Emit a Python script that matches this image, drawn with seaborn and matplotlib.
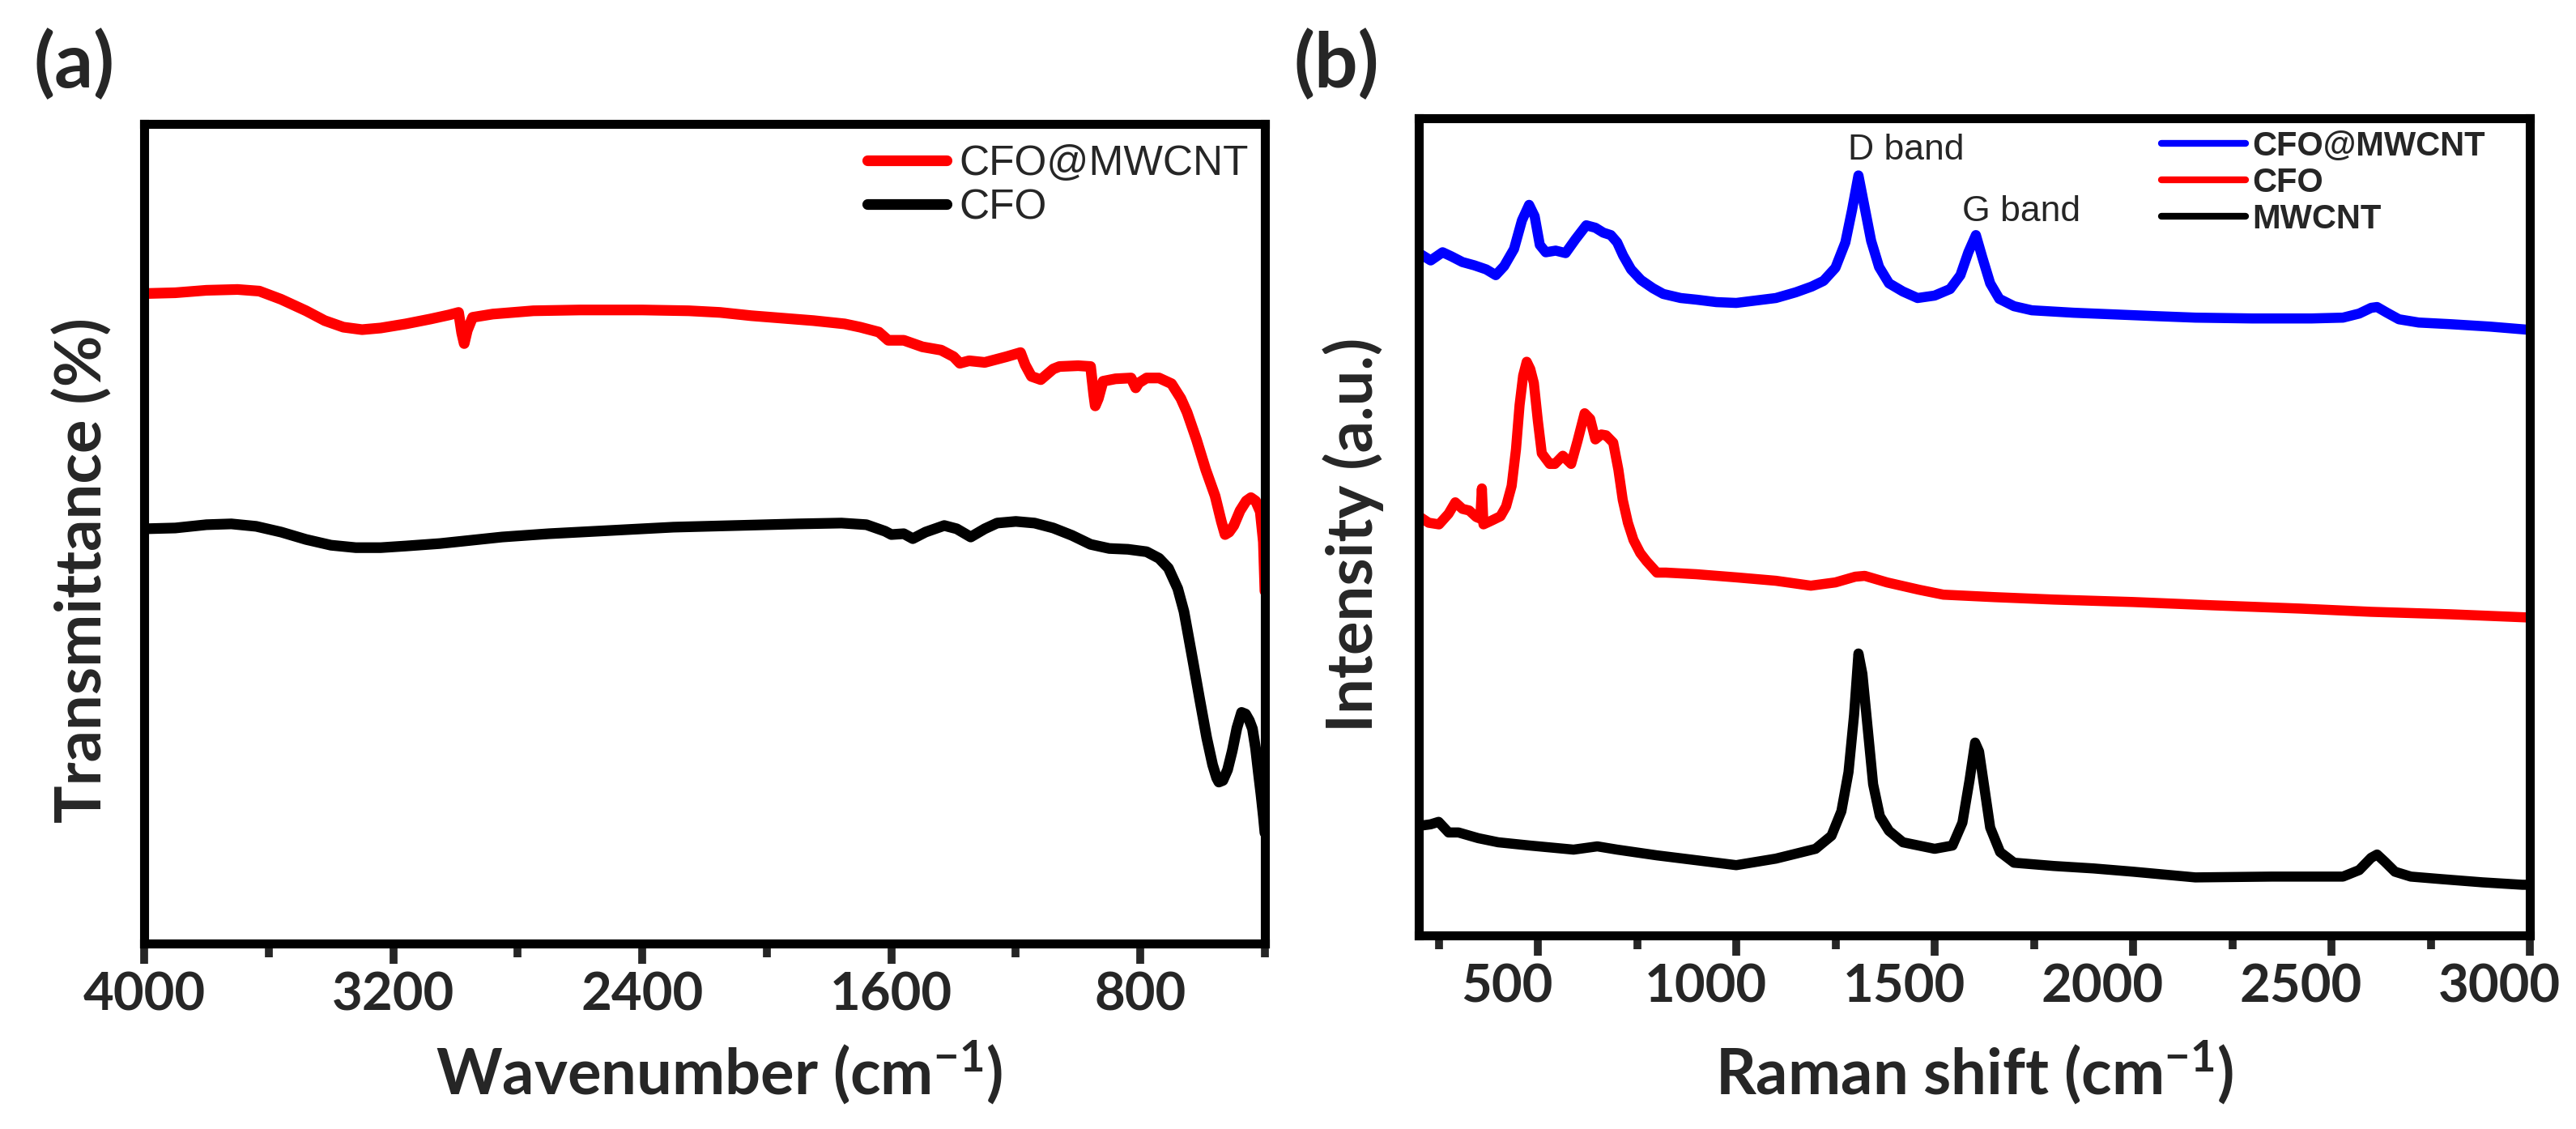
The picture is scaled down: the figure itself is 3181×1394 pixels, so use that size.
import matplotlib
matplotlib.use('Agg')
import matplotlib.pyplot as plt
import matplotlib.transforms as mtransforms
import seaborn as sns
import pandas as pd

# ---- FTIR (a) ----
ftir_wn_cfo_mwcnt = [4000, 3900, 3800, 3700, 3630, 3560, 3480, 3420, 3360, 3300, 3240, 3160, 3080,
                     3020, 2990, 2980, 2972, 2962, 2945, 2880, 2750, 2600, 2400, 2250, 2150, 2050,
                     1950, 1850, 1750, 1700, 1640, 1610, 1560, 1500, 1440, 1400, 1380, 1350, 1300,
                     1230, 1185, 1170, 1150, 1120, 1080, 1060, 1000, 960, 950, 945, 935, 920, 880,
                     830, 815, 805, 780, 740, 700, 670, 650, 620, 590, 560, 540, 528, 515, 500, 480,
                     460, 445, 430, 415, 405, 400]
ftir_cfo_mwcnt = [79.3, 79.4, 79.7, 79.8, 79.6, 78.6, 77.2, 76.0, 75.2, 74.9, 75.1, 75.6, 76.2,
                  76.7, 77.0, 74.5, 73.2, 74.8, 76.4, 76.8, 77.2, 77.3, 77.3, 77.2, 77.0, 76.6,
                  76.3, 76.0, 75.6, 75.2, 74.6, 73.6, 73.6, 72.8, 72.4, 71.6, 70.8, 71.1, 70.9,
                  71.6, 72.1, 70.6, 69.2, 68.8, 70.1, 70.4, 70.5, 70.4, 67.0, 65.6, 66.5, 68.6, 68.9,
                  69.0, 67.8, 68.4, 69.0, 69.0, 68.3, 66.5, 64.8, 61.5, 57.8, 54.6, 51.5, 49.9, 50.2,
                  51.0, 52.8, 54.0, 54.4, 54.0, 52.7, 49.0, 43.0]

ftir_wn_cfo = [4000, 3900, 3800, 3720, 3640, 3560, 3480, 3400, 3320, 3240, 3160, 3050, 2950, 2850,
               2700, 2500, 2300, 2100, 1900, 1760, 1680, 1620, 1600, 1560, 1531, 1490, 1430, 1390,
               1345, 1300, 1260, 1200, 1140, 1080, 1020, 960, 900, 840, 780, 740, 710, 680, 660,
               630, 610, 587, 568, 555, 548, 535, 520, 505, 490, 475, 462, 450, 440, 430, 420,
               413, 405, 400]
ftir_cfo = [50.6, 50.7, 51.1, 51.2, 50.9, 50.2, 49.3, 48.6, 48.3, 48.3, 48.5, 48.8, 49.2, 49.6,
            50.0, 50.4, 50.8, 51.0, 51.2, 51.3, 51.1, 50.3, 49.9, 50.0, 49.4, 50.2, 51.0, 50.6,
            49.6, 50.6, 51.3, 51.5, 51.3, 50.7, 49.8, 48.7, 48.2, 48.1, 47.8, 47.0, 45.8, 43.3, 40.5,
            34.2, 29.9, 25.1, 21.8, 20.2, 19.7, 19.9, 21.2, 23.5, 26.3, 28.2, 28.0, 27.2, 26.2, 23.8,
            20.5, 18.3, 15.5, 13.5]

# ---- Raman (b) ----
raman_x_cfo_mwcnt = [200, 230, 260, 282, 310, 340, 370, 394, 415, 440, 460, 478, 492, 505, 520, 545,
                     570, 595, 622, 645, 665, 684, 700, 715, 735, 760, 790, 816, 860, 900, 950, 1000,
                     1050, 1100, 1150, 1190, 1220, 1250, 1275, 1292, 1308, 1322, 1340, 1360, 1385,
                     1420, 1457, 1500, 1539, 1565, 1585, 1604, 1620, 1640, 1663, 1700, 1745, 1850,
                     1950, 2050, 2157, 2300, 2450, 2529, 2570, 2600, 2615, 2640, 2670, 2720, 2800,
                     2900, 3000]
raman_cfo_mwcnt = [83.5, 82.6, 83.6, 83.1, 82.4, 82.0, 81.5, 80.8, 81.9, 84.0, 87.5, 89.4, 88.0, 84.5,
                   83.6, 83.8, 83.5, 85.2, 86.9, 86.6, 86.0, 85.7, 84.8, 83.2, 81.5, 80.2, 79.2, 78.5,
                   78.0, 77.8, 77.5, 77.4, 77.7, 78.0, 78.7, 79.4, 80.1, 81.7, 84.8, 88.8, 93.0, 89.5,
                   85.0, 81.8, 79.8, 78.8, 78.0, 78.3, 79.1, 80.8, 83.6, 85.7, 83.0, 79.8, 77.9, 77.0,
                   76.5, 76.2, 76.0, 75.8, 75.6, 75.5, 75.5, 75.6, 76.1, 76.8, 76.9, 76.2, 75.4, 75.0,
                   74.8, 74.5, 74.1]

raman_x_cfo = [200, 225, 251, 275, 292, 310, 327, 345, 355, 359, 363, 385, 406, 420, 434, 445, 454,
               463, 472, 481, 490, 500, 510, 530, 543, 563, 584, 600, 618, 632, 645, 660, 672, 690,
               703, 714, 727, 741, 758, 774, 800, 823, 900, 1004, 1100, 1188, 1250, 1300, 1324, 1380,
               1461, 1522, 1650, 1800, 2000, 2200, 2420, 2600, 2800, 3000]
raman_cfo = [51.3, 50.5, 50.3, 51.6, 53.0, 52.2, 52.0, 51.2, 51.0, 54.7, 50.3, 50.8, 51.3, 52.5, 55.0,
             59.5, 64.9, 68.5, 70.2, 69.3, 67.6, 63.0, 59.0, 57.7, 57.7, 58.7, 57.7, 60.5, 63.9, 63.2,
             60.7, 61.3, 61.2, 60.3, 57.0, 53.3, 50.5, 48.4, 46.8, 45.8, 44.4, 44.4, 44.2, 43.8, 43.4,
             42.8, 43.2, 43.9, 44.0, 43.2, 42.3, 41.7, 41.4, 41.1, 40.8, 40.4, 40.0, 39.6, 39.3, 38.9]

raman_x_mwcnt = [200, 230, 250, 275, 300, 350, 400, 480, 590, 650, 700, 800, 900, 1000, 1100, 1150,
                 1200, 1240, 1265, 1283, 1297, 1308, 1318, 1330, 1345, 1362, 1385, 1420, 1500, 1545,
                 1570, 1588, 1602, 1612, 1625, 1640, 1665, 1700, 1800, 1900, 2000, 2157, 2350, 2529,
                 2570, 2600, 2615, 2635, 2660, 2700, 2775, 2880, 2981, 3000]
raman_mwcnt = [13.4, 13.6, 13.9, 12.6, 12.6, 11.9, 11.4, 11.0, 10.5, 10.9, 10.5, 9.8, 9.2, 8.6, 9.4,
               10.0, 10.6, 12.2, 15.2, 20.0, 27.0, 34.5, 32.0, 26.0, 18.5, 14.6, 12.8, 11.4, 10.6,
               11.0, 13.8, 19.0, 23.6, 22.5, 18.2, 13.2, 10.2, 8.9, 8.5, 8.2, 7.8, 7.1, 7.2, 7.2, 8.0,
               9.5, 9.9, 9.0, 7.8, 7.2, 6.9, 6.5, 6.2, 6.2]

ftir_major = [4000, 3200, 2400, 1600, 800]
ftir_minor = [3600, 2800, 2000, 1200, 400]
raman_major = [500, 1000, 1500, 2000, 2500, 3000]
raman_minor = [250, 750, 1250, 1750, 2250, 2750]

sns.set_style('ticks')
plt.rcParams['font.family'] = ['Lato', 'DejaVu Sans']
plt.rcParams['font.weight'] = 'bold'
plt.rcParams['mathtext.fontset'] = 'custom'
plt.rcParams['mathtext.rm'] = 'Lato:bold'
plt.rcParams['mathtext.default'] = 'rm'

W, H = 3181, 1394
fig = plt.figure(figsize=(W / 100, H / 100), dpi=100)


def px_axes(l, t, r, b):
    return fig.add_axes([l / W, 1 - b / H, (r - l) / W, (b - t) / H])


def style_axes(ax, major, minor):
    for sp in ax.spines.values():
        sp.set_linewidth(8)
        sp.set_color('black')
    ax.set_xticks(major)
    ax.set_xticks(minor, minor=True)
    ax.set_yticks([])
    ax.tick_params(axis='x', which='major', direction='out', length=18, width=7, pad=7,
                   labelsize=47, top=False)
    ax.tick_params(axis='x', which='minor', direction='out', length=12, width=7, top=False)
    for lab in ax.get_xticklabels():
        lab.set_fontweight('bold')


# panel (a)
ax1 = px_axes(178, 153, 1562, 1165)
df_a1 = pd.DataFrame({'x': ftir_wn_cfo_mwcnt, 'y': ftir_cfo_mwcnt})
df_a2 = pd.DataFrame({'x': ftir_wn_cfo, 'y': ftir_cfo})
sns.lineplot(data=df_a1, x='x', y='y', ax=ax1, color='#ff0000', lw=9.5, label='CFO@MWCNT')
sns.lineplot(data=df_a2, x='x', y='y', ax=ax1, color='black', lw=9.5, label='CFO')
ax1.set_xlim(4000, 400)
ax1.set_ylim(0, 100)
style_axes(ax1, ftir_major, ftir_minor)
ax1.set_xlabel(r'Wavenumber (cm$^{-1}$)', fontsize=56, fontweight='bold')
ax1.set_ylabel('Transmittance (%)', fontsize=56, fontweight='bold')
ax1.xaxis.set_label_coords(0.513, -0.116)
ax1.yaxis.set_label_coords(-0.028, 0.455)
leg1 = ax1.legend(loc='upper left', bbox_to_anchor=(1071 / W, 1 - 178 / H), bbox_transform=fig.transFigure,
                  frameon=False, borderpad=0, borderaxespad=0, handlelength=1.9, handletextpad=0.3,
                  labelspacing=0.1, prop={'family': 'Liberation Sans', 'size': 37, 'weight': 'normal'})

# panel (b)
ax2 = px_axes(1752, 146, 3124, 1155)
df_b1 = pd.DataFrame({'x': raman_x_cfo_mwcnt, 'y': raman_cfo_mwcnt})
df_b2 = pd.DataFrame({'x': raman_x_cfo, 'y': raman_cfo})
df_b3 = pd.DataFrame({'x': raman_x_mwcnt, 'y': raman_mwcnt})
sns.lineplot(data=df_b1, x='x', y='y', ax=ax2, color='#0000ff', lw=9, label='CFO@MWCNT')
sns.lineplot(data=df_b2, x='x', y='y', ax=ax2, color='#ff0000', lw=9, label='CFO')
sns.lineplot(data=df_b3, x='x', y='y', ax=ax2, color='black', lw=9, label='MWCNT')
ax2.set_xlim(200, 3000)
ax2.set_ylim(0, 100)
style_axes(ax2, raman_major, raman_minor)
ax2.set_xlabel(r'Raman shift (cm$^{-1}$)', fontsize=56, fontweight='bold')
ax2.set_ylabel('Intensity (a.u.)', fontsize=56, fontweight='bold')
ax2.xaxis.set_label_coords(0.5, -0.126)
ax2.yaxis.set_label_coords(-0.031, 0.49)
leg2 = ax2.legend(loc='upper left', bbox_to_anchor=(2669 / W, 1 - 161 / H), bbox_transform=fig.transFigure,
                  frameon=False, borderpad=0, borderaxespad=0, handlelength=2.5, handletextpad=0.2,
                  labelspacing=0.12, prop={'family': 'Liberation Sans', 'size': 30, 'weight': 'bold'})
for h in leg2.legend_handles:
    h.set_linewidth(6)

# in the reference the Raman tick labels sit a little left of their ticks
shift = mtransforms.ScaledTranslation(-0.38, 0, fig.dpi_scale_trans)
for tick in ax2.xaxis.get_major_ticks():
    tick.label1.set_transform(tick.label1.get_transform() + shift)

ax2.text(1282, 94.9, 'D band', fontsize=32, family='Liberation Sans', fontweight='normal',
         ha='left', va='baseline')
ax2.text(1569, 87.4, 'G band', fontsize=32, family='Liberation Sans', fontweight='normal',
         ha='left', va='baseline')

fig.text(92 / W, 1 - 80 / H, '(a)', fontsize=68, fontweight='bold', ha='center', va='center')
fig.text(1650 / W, 1 - 80 / H, '(b)', fontsize=68, fontweight='bold', ha='center', va='center')

fig.savefig('out.png', dpi=100, facecolor='white')
